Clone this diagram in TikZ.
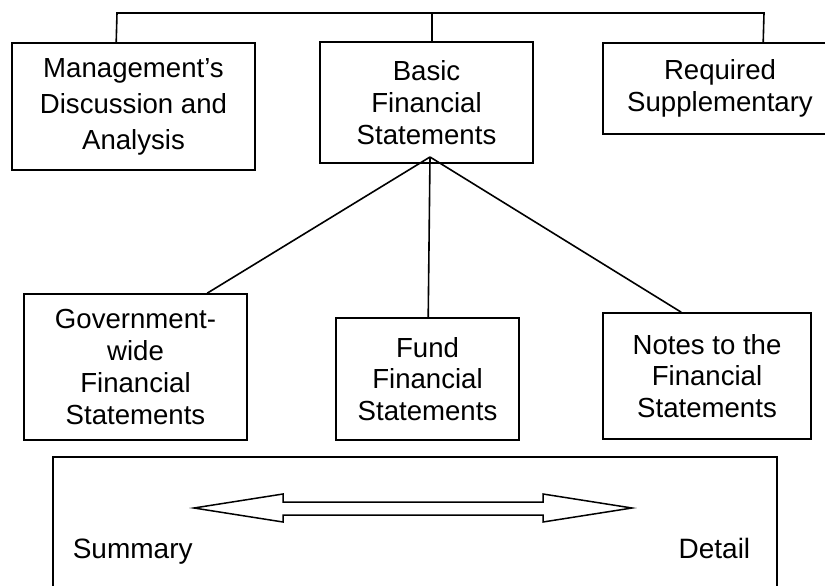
\documentclass[tikz,border=0pt]{standalone}
\usepackage{fontspec}
\setmainfont{Liberation Sans}
\newfontfamily\labelfont{Liberation Sans}
\begin{document}
\begin{tikzpicture}[x=1pt,y=-1pt,
  line width=1.6pt,
  box/.style={draw, line width=1.6pt, inner sep=0pt, align=center,
    font=\fontsize{27.6}{31.7}\selectfont},
  side/.style={font=\labelfont\fontsize{28}{30}\selectfont, inner sep=0pt}]
\useasboundingbox (0,0) rectangle (825,586);
% top row
\node[box, minimum width=243pt, minimum height=127pt,
  font=\fontsize{27.6}{36}\selectfont] (mgmt) at (133.5,106.5)
  {Management’s\\Discussion and\\Analysis};
\node[box, minimum width=213pt, minimum height=121pt] (basic) at (426.5,102.5)
  {Basic\\Financial\\Statements};
\node[box, minimum width=234pt, minimum height=91pt] (req) at (720,88.5)
  {Required\\Supplementary};
% second row
\node[box, minimum width=223pt, minimum height=146pt] (govt) at (135.5,367)
  {Government-\\wide\\Financial\\Statements};
\node[box, minimum width=183pt, minimum height=122pt] (fund) at (427.5,379)
  {Fund\\Financial\\Statements};
\node[box, minimum width=208pt, minimum height=126pt] (notes) at (707,376)
  {Notes to the\\Financial\\Statements};
% bottom scale box
\node[draw, line width=1.6pt, inner sep=0pt, minimum width=724pt,
  minimum height=143pt] (scale) at (415,528.5) {};
\node[side, anchor=base west] (summary) at (72,558) {Summary};
\node[side, anchor=base east] (detail) at (751,558) {Detail};
% bracket on top
\coordinate (mgmttop) at ([xshift=105pt]mgmt.north west);
\coordinate (basictop) at ([xshift=113pt]basic.north west);
\coordinate (reqtop) at ([xshift=161pt]req.north west);
\coordinate (barL) at (117,13);
\coordinate (barR) at (764,13);
\draw (mgmttop) -- (barL) -- (barR) -- (reqtop);
\draw (basictop) -- (basictop |- barL);
% tree lines
\coordinate (apex) at (430,157);
\coordinate (govttop) at ([xshift=184pt]govt.north west);
\coordinate (fundtop) at ([xshift=93pt]fund.north west);
\coordinate (notestop) at ([xshift=79pt]notes.north west);
\draw (apex) -- (govttop);
\draw (apex) -- (fundtop);
\draw (apex) -- (notestop);
% double arrow
\draw[line width=1.5pt, line join=miter]
  (194,508) -- (283,494) -- (283,502) -- (543,502) -- (543,494) -- (632,508)
  -- (543,522) -- (543,515) -- (283,515) -- (283,522) -- cycle;
\end{tikzpicture}
\end{document}
